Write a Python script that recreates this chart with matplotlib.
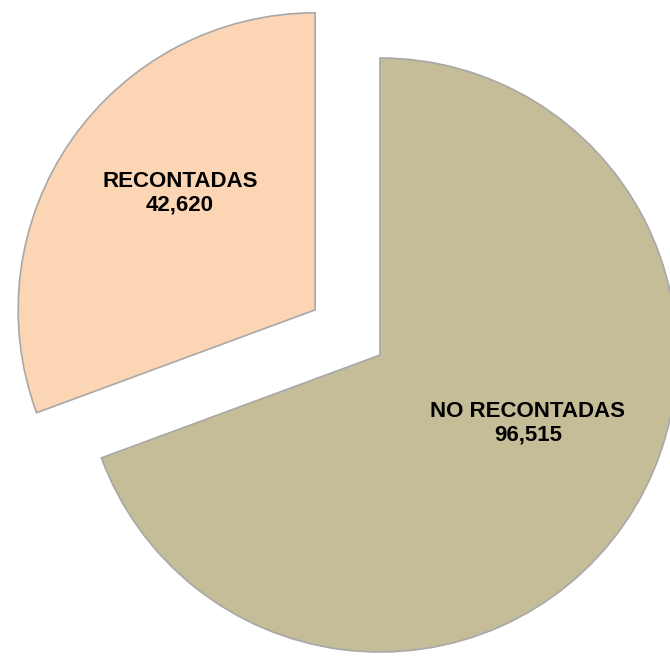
import matplotlib
matplotlib.use('Agg')
import matplotlib.pyplot as plt

labels = ['NO RECONTADAS', 'RECONTADAS']
values = [96515, 42620]
colors = ['#C4BD97', '#FCD5B5']

fig = plt.figure(figsize=(6.70, 6.57), dpi=100)
ax = fig.add_axes([0, 0, 1, 1])

# pie center / radius in pixel coords (y up); explode is absolute here
ax.pie(values, colors=colors, startangle=90, counterclock=False,
       explode=[0, 79], center=(380, 302), radius=297,
       wedgeprops=dict(edgecolor='#A8A8A8', linewidth=1.2))

ax.set_xlim(0, 670)
ax.set_ylim(0, 657)
ax.set_aspect('equal')
ax.axis('off')

lab_pos = [(528, 234), (180, 464)]
for (x, y), name, v in zip(lab_pos, labels, values):
    ax.text(x, y, f'{name}\n{v:,}', ha='center', va='center',
            fontsize=16, fontweight='bold', family='Liberation Sans',
            linespacing=1.15, color='black')

fig.savefig('out.png', dpi=100)
